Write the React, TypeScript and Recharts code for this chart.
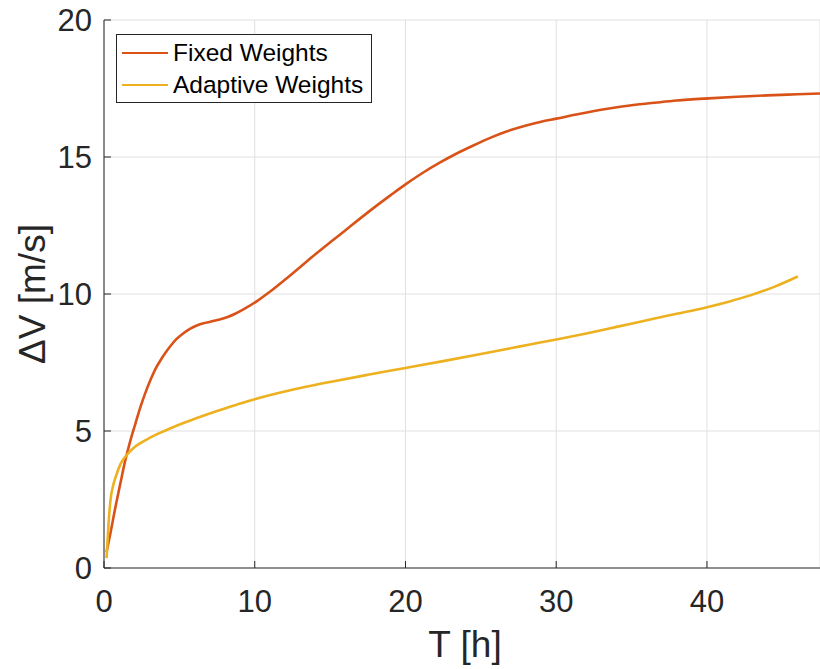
import React from 'react';
import { LineChart, Line, XAxis, YAxis, CartesianGrid, Legend } from 'recharts';

// Transfer time T [h] and cumulative delta-V [m/s] for each weighting scheme
const fixedT = [
  0.17, 0.43, 0.75, 1.09, 1.4, 1.76, 2.1, 2.42, 2.75, 3.08, 3.4, 3.75, 4.1, 4.41, 4.8,
  5.27, 5.7, 6.2, 6.6, 7.06, 7.6, 8.2, 8.7, 9.25, 10.2, 11, 12, 13, 14, 15.2, 16, 17,
  18, 19, 20, 21, 22.3, 23.3, 24.5, 25.5, 26.7, 28, 29, 30, 31.5, 33.4, 35, 36.7, 38,
  40.1, 42, 44, 46, 47.5,
];
const fixedDV = [
  0.58, 1.28, 2.2, 3.1, 3.9, 4.67, 5.3, 5.88, 6.4, 6.86, 7.25, 7.58, 7.87, 8.1, 8.35,
  8.57, 8.73, 8.86, 8.93, 8.99, 9.06, 9.16, 9.28, 9.44, 9.76, 10.08, 10.52, 10.98, 11.44,
  11.97, 12.32, 12.76, 13.19, 13.6, 14.0, 14.37, 14.8, 15.1, 15.42, 15.67, 15.93,
  16.15, 16.29, 16.4, 16.57, 16.76, 16.89, 16.99, 17.06, 17.14, 17.2, 17.25, 17.29,
  17.32,
];

const adaptiveT = [
  0.17, 0.3, 0.43, 0.6, 0.76, 1.1, 1.55, 2.0, 2.42, 3.0, 3.75, 4.5, 5.27, 6.4, 7.5, 8.8,
  10.05, 11.5, 13.03, 15, 17.5, 20, 22.5, 25, 26.3, 28, 30, 32, 34, 36.24, 38, 40, 41.5,
  42.87, 44.5, 46.03,
];
const adaptiveDV = [
  0.36, 1.6, 2.48, 3.0, 3.3, 3.8, 4.15, 4.4, 4.56, 4.74, 4.94, 5.12, 5.29, 5.52, 5.73,
  5.96, 6.17, 6.38, 6.57, 6.79, 7.05, 7.3, 7.55, 7.81, 7.95, 8.13, 8.34, 8.56, 8.8, 9.07,
  9.28, 9.52, 9.73, 9.95, 10.27, 10.64,
];

const xTicks = [0, 10, 20, 30, 40];
const yTicks = [0, 5, 10, 15, 20];

const seriesNames = ['Fixed Weights', 'Adaptive Weights'];
const seriesColors = ['#D95319', '#EDB120'];

const fixedData = fixedT.map((t, i) => ({ t, dv: fixedDV[i] }));
const adaptiveData = adaptiveT.map((t, i) => ({ t, dv: adaptiveDV[i] }));

const FONT = '"Liberation Sans", Arial, Helvetica, sans-serif';
const INK = '#262626';

const XLabel = (props: any) => {
  const { viewBox } = props;
  const cx = viewBox.x + viewBox.width / 2 + 3;
  const by = viewBox.y + 89;
  return (
    <text x={cx} y={by} textAnchor="middle" fill={INK} fontSize={37} fontFamily={FONT}>
      T [h]
    </text>
  );
};

const YLabel = (props: any) => {
  const { viewBox } = props;
  const cx = viewBox.x + 32;
  const cy = viewBox.y + viewBox.height / 2;
  return (
    <text
      x={cx}
      y={cy}
      transform={`rotate(-90 ${cx} ${cy})`}
      textAnchor="middle"
      dominantBaseline="central"
      fill={INK}
      fontSize={37}
      fontFamily={FONT}
    >
      ΔV [m/s]
    </text>
  );
};

const LegendBox = () => (
  <div
    style={{
      boxSizing: 'border-box',
      width: 256,
      height: 69,
      border: `1px solid ${INK}`,
      background: '#fff',
      padding: '2px 0 0 5px',
      fontFamily: FONT,
      fontSize: 24.5,
      color: '#000',
    }}
  >
    {seriesNames.map((name, i) => (
      <div key={name} style={{ display: 'flex', alignItems: 'center', height: 32, lineHeight: '32px' }}>
        <span
          style={{
            display: 'inline-block',
            width: 46,
            height: 0,
            borderTop: `2.5px solid ${seriesColors[i]}`,
            marginRight: 5,
          }}
        />
        <span style={{ whiteSpace: 'nowrap' }}>{name}</span>
      </div>
    ))}
  </div>
);

export default function App() {
  return (
    <div style={{ position: 'absolute', left: 0, top: 0, background: '#fff' }}>
      <LineChart width={820} height={669} margin={{ top: 20, right: 0, bottom: 0, left: 0 }}>
        <CartesianGrid stroke="#e0e0e0" strokeWidth={1} />
        <XAxis
          type="number"
          dataKey="t"
          domain={[0, 47.5]}
          ticks={xTicks}
          height={101}
          allowDataOverflow
          stroke="#6f6f6f"
          strokeWidth={1.5}
          tickSize={-7}
          tickMargin={29}
          tickLine={{ stroke: INK, strokeWidth: 1 }}
          tick={{ fill: INK, fontSize: 31, fontFamily: FONT }}
          label={<XLabel />}
        />
        <YAxis
          type="number"
          dataKey="dv"
          domain={[0, 20]}
          ticks={yTicks}
          width={104}
          allowDataOverflow
          stroke={INK}
          strokeWidth={1}
          tickSize={-7}
          tickMargin={19}
          tickLine={{ stroke: INK, strokeWidth: 1 }}
          tick={{ fill: INK, fontSize: 31, fontFamily: FONT }}
          label={<YLabel />}
        />
        <Legend
          content={<LegendBox />}
          layout="vertical"
          align="center"
          verticalAlign="middle"
          wrapperStyle={{ top: 34, left: 116, width: 'auto' }}
        />
        <Line
          data={fixedData}
          dataKey="dv"
          name={seriesNames[0]}
          type="monotone"
          stroke={seriesColors[0]}
          strokeWidth={2.6}
          dot={false}
          activeDot={false}
          isAnimationActive={false}
        />
        <Line
          data={adaptiveData}
          dataKey="dv"
          name={seriesNames[1]}
          type="monotone"
          stroke={seriesColors[1]}
          strokeWidth={2.6}
          dot={false}
          activeDot={false}
          isAnimationActive={false}
        />
      </LineChart>
    </div>
  );
}
